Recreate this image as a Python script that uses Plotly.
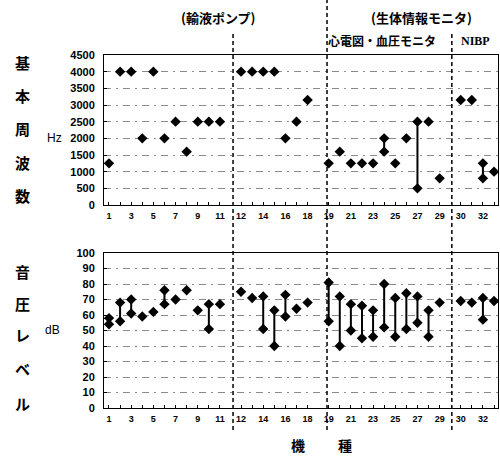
import plotly.graph_objects as go

# Device numbers and the group each one belongs to
devices = list(range(1, 34))
groups = [0] * 11 + [1] * 7 + [2] * 11 + [3] * 4

# Fundamental frequency (Hz): low / high value per device
freq_lo = [1250, 4000, 4000, 2000, 4000, 2000, 2500, 1600, 2500, 2500, 2500,
           4000, 4000, 4000, 4000, 2000, 2500, 3150,
           1250, 1600, 1250, 1250, 1250, 1600, 1250, 2000, 500, 2500, 800,
           3150, 3150, 800, 1000]
freq_hi = [1250, 4000, 4000, 2000, 4000, 2000, 2500, 1600, 2500, 2500, 2500,
           4000, 4000, 4000, 4000, 2000, 2500, 3150,
           1250, 1600, 1250, 1250, 1250, 2000, 1250, 2000, 2500, 2500, 800,
           3150, 3150, 1250, 1000]

# Sound pressure level (dB): low / high value per device
spl_lo = [54, 56, 61, 59, 62, 67, 70, 76, 63, 51, 67,
          75, 71, 51, 40, 59, 64, 68,
          56, 40, 50, 45, 46, 52, 46, 51, 55, 46, 68,
          69, 68, 57, 69]
spl_hi = [58, 68, 70, 59, 62, 76, 70, 76, 63, 67, 67,
          75, 71, 72, 63, 73, 64, 68,
          81, 72, 67, 66, 63, 80, 71, 74, 72, 63, 68,
          69, 68, 71, 69]

labeled = [1, 3, 5, 7, 9, 11, 12, 14, 16, 18, 19, 21, 23, 25, 27, 29, 30, 32]
freq_ticks = list(range(0, 4501, 500))
spl_ticks = list(range(0, 101, 10))

GROUP_GAP = 0.9
pos = [d + GROUP_GAP * g for d, g in zip(devices, groups)]
dividers = [12.18, 20.65, 31.9]

W, H = 500, 459
ML, MR, MT, MB = 104, 2, 55, 51
PW, PH = W - ML - MR, H - MT - MB


def px(xp):
    return (xp - ML) / PW


def py(yp):
    return (H - MB - yp) / PH


fig = go.Figure()


def add_panel(lo, hi, xa, ya):
    lx, ly = [], []
    for p, a, b in zip(pos, lo, hi):
        if b > a:
            lx += [p, p, None]
            ly += [a, b, None]
    fig.add_trace(go.Scatter(x=lx, y=ly, mode="lines", xaxis=xa, yaxis=ya,
                             line=dict(color="black", width=2),
                             hoverinfo="skip", showlegend=False))
    mx, my = [], []
    for p, a, b in zip(pos, lo, hi):
        mx.append(p)
        my.append(a)
        if b > a:
            mx.append(p)
            my.append(b)
    fig.add_trace(go.Scatter(x=mx, y=my, mode="markers", xaxis=xa, yaxis=ya,
                             marker=dict(symbol="diamond", size=8, color="black"),
                             showlegend=False))


add_panel(freq_lo, freq_hi, "x", "y")
add_panel(spl_lo, spl_hi, "x2", "y2")

tick_pos = pos
tick_txt = [str(d) if d in labeled else "" for d in devices]
tick_font = dict(family="Liberation Sans", size=9, color="black", weight="bold")
num_font = dict(family="Liberation Sans", size=11, color="black", weight="bold")
grid = dict(showgrid=True, gridcolor="#8a8a8a", gridwidth=1,
            griddash="7px,5px,2px,5px")

xcommon = dict(range=[0.55, 36.06], tickvals=tick_pos, ticktext=tick_txt,
               ticks="inside", ticklen=3, tickcolor="black", showgrid=False,
               showline=True, mirror=True, linecolor="black", linewidth=1,
               zeroline=False, tickfont=tick_font, ticklabelstandoff=2)

fig.update_layout(
    width=W, height=H,
    margin=dict(l=ML, r=MR, t=MT, b=MB),
    paper_bgcolor="white", plot_bgcolor="white",
    xaxis=dict(domain=[0, 1], anchor="y", **xcommon),
    xaxis2=dict(domain=[0, 1], anchor="y2", **xcommon),
    yaxis=dict(domain=[py(205), 1], range=[0, 4500], tickvals=freq_ticks,
               ticks="inside", ticklen=3, tickcolor="black",
               showline=True, mirror=True, linecolor="black", linewidth=1,
               zeroline=False, tickfont=num_font, ticklabelstandoff=6, **grid),
    yaxis2=dict(domain=[0, py(253)], range=[0, 100], tickvals=spl_ticks,
                ticks="inside", ticklen=3, tickcolor="black",
                showline=True, mirror=True, linecolor="black", linewidth=1,
                zeroline=False, tickfont=num_font, ticklabelstandoff=6, **grid),
)

# Group dividers
for i, d in enumerate(dividers):
    top = py(0) if i == 1 else py(32)
    fig.add_shape(type="line", xref="x", yref="paper", x0=d, x1=d,
                  y0=py(430), y1=top,
                  line=dict(color="black", width=1.5, dash="4px,3px"))

jp = "Noto Sans CJK JP"


def label(text, x, y, size, family=jp, weight="bold"):
    fig.add_annotation(text=text, xref="paper", yref="paper", x=px(x), y=py(y),
                       showarrow=False, xanchor="center", yanchor="middle",
                       font=dict(family=family, size=size, color="black",
                                 weight=weight))


for ch, y in zip("基本周波数", [62, 95, 128, 162, 195]):
    label(ch, 22, y, 15)
for ch, y in zip("音圧レベル", [271, 303, 334, 368, 403]):
    label(ch, 22, y, 15)
label("Hz", 54, 138, 12, family="Liberation Sans", weight="normal")
label("dB", 52, 330, 12, family="Liberation Sans", weight="normal")
label("(輸液ポンプ)", 218, 17, 13)
label("(生体情報モニタ)", 421, 17, 13)
label("心電図・血圧モニタ", 382, 41, 12)
label("NIBP", 475, 41, 12, family="Liberation Serif")
label("機", 298, 445, 14)
label("種", 345, 445, 14)

fig.write_html("out.html")
